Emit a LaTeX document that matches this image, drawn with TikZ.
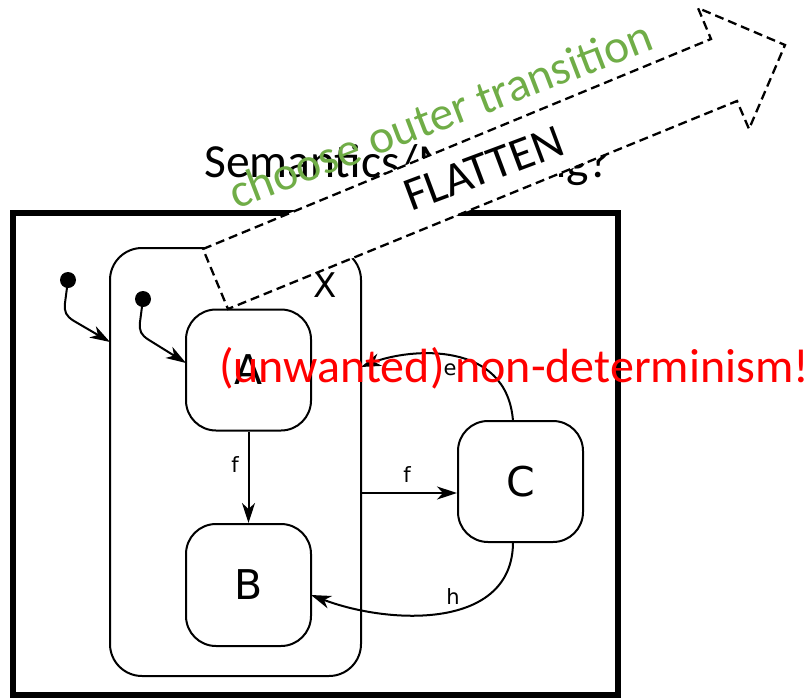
\documentclass[tikz,border=0pt]{standalone}
\usepackage{fontspec}
\setmainfont{Carlito}
\newfontfamily\dejavu{DejaVu Sans}
\usetikzlibrary{arrows.meta}
\definecolor{ogreen}{HTML}{70AD47}
\begin{document}
\begin{tikzpicture}[x=1pt,y=-1pt,
  state/.style={draw, line width=2pt, rounded corners=30pt, minimum width=125pt, minimum height=121pt, inner sep=0pt, font=\dejavu\fontsize{41}{41}\selectfont},
  arr/.style={line width=2pt, -{Stealth[length=20pt,width=13pt,inset=6pt]}},
  elabel/.style={font=\dejavu\fontsize{21}{21}\selectfont, inner sep=0pt},
  bigtext/.style={font=\fontsize{47.5}{56}\selectfont, inner sep=0pt},
  initdot/.style={circle, fill, inner sep=0pt, minimum size=16pt},
  flatarrow/.style={line width=2.3pt, dash pattern=on 9pt off 5pt, fill=white}
]
\useasboundingbox (0,0) rectangle (808,699);

% outer system box
\node[draw, line width=5.5pt, minimum width=605pt, minimum height=482pt, inner sep=0pt] (sys) at (315.5,454) {};

% super-state X
\node[draw, line width=2pt, rounded corners=32pt, minimum width=251pt, minimum height=428pt, inner sep=0pt] (X) at (235.5,462) {};
\node[font=\dejavu\fontsize{34}{34}\selectfont, inner sep=0pt] (xl) at (325,285) {X};

% states
\node[state] (A) at (248.5,370) {A};
\node[state, minimum height=122pt] (B) at (248.5,585) {B};
\node[state] (C) at (520.5,481.5) {C};

% initial pseudo-states
\node[initdot] (i1) at (68,280) {};
\node[initdot] (i2) at (143,299) {};
\coordinate (x1) at (110,342);
\coordinate (a1) at (186,363);
\draw[arr] (i1.center) -- (65,303) .. controls (64,312) and (66,316) .. (74,321) -- (x1);
\draw[arr] (i2.center) -- (140,322) .. controls (139,331) and (141,335) .. (149,340) -- (a1);

% transitions
\draw[arr] (A) -- (B);
\node[elabel] (fl1) at (235,465) {f};

\coordinate (xf) at (361,493);
\draw[arr] (xf) -- (xf -| C.west);
\node[elabel] (fl2) at (407,475) {f};

\coordinate (ce) at (513,421);
\coordinate (xe) at (361,367);
\draw[arr] (ce) .. controls (507,340) and (410,348) .. (xe);
\node[elabel] (el) at (450,370) {e};

\coordinate (ch) at (513,542);
\coordinate (bh) at (311,595);
\draw[arr] (ch) .. controls (513,630) and (390,625) .. (bh);
\node[elabel] (hl) at (453,597) {h};

% title
\node[bigtext, anchor=base west] (title) at (204,177) {Semantics/Meaning?};

% flatten arrow
\draw[flatarrow] (203,249) -- (711,39) -- (698,8) -- (785,45) -- (749,129) -- (737,101) -- (228,309) -- cycle;
\node[bigtext, anchor=base west, rotate=20.5] (flat) at (411,212) {FLATTEN};

% annotations
\node[bigtext, text=ogreen, anchor=base west, rotate=21] (choose) at (236,210) {choose outer transition};
\node[bigtext, font=\fontsize{48}{56}\selectfont, text=red, anchor=base west] (nd) at (219,382) {(unwanted) non-determinism!};
\end{tikzpicture}
\end{document}
